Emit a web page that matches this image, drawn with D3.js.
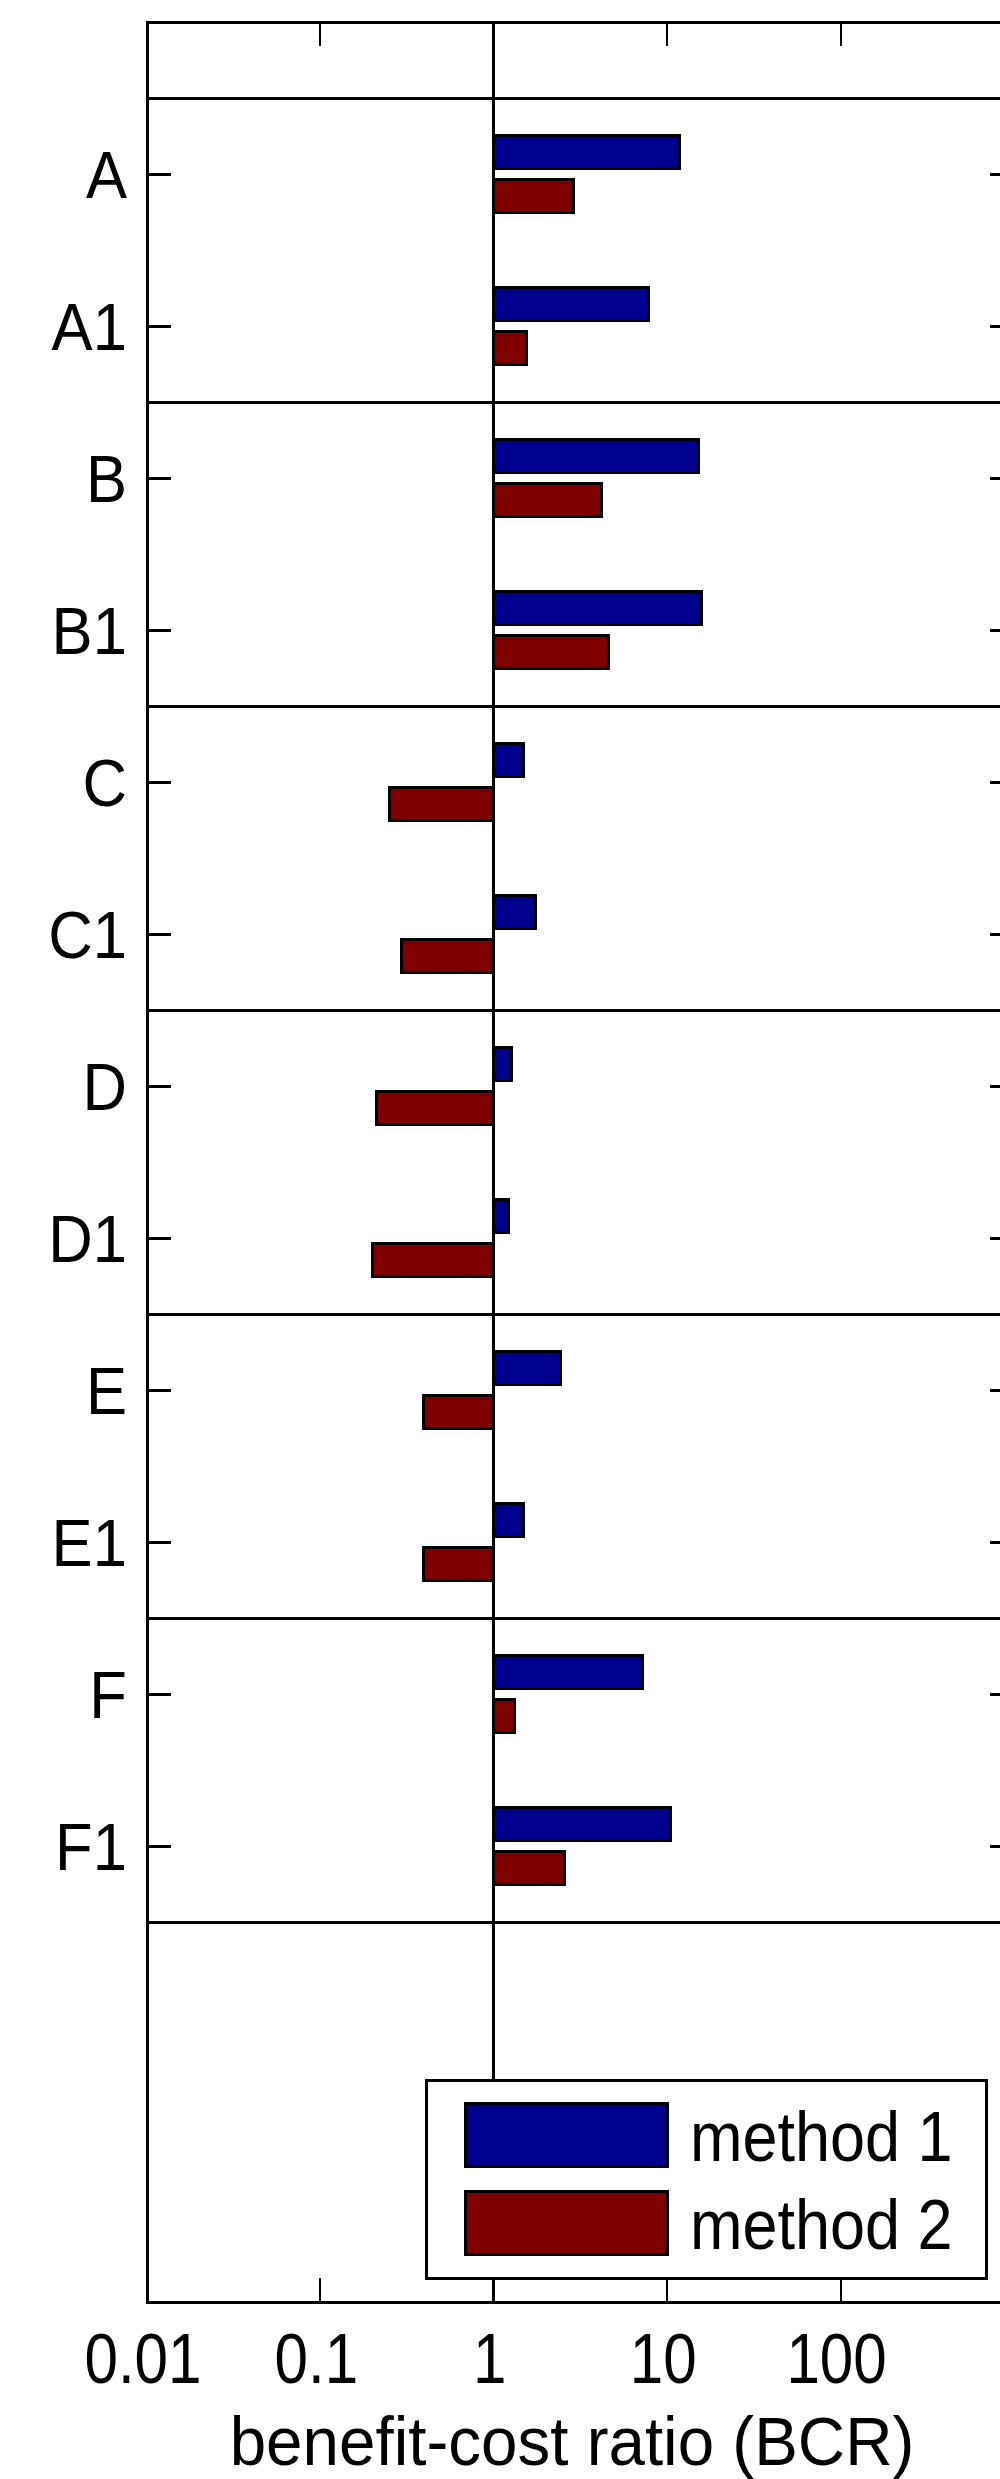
<!DOCTYPE html>
<html lang="en">
  <head>
    <meta charset="UTF-8" />
    <title>Benefit-cost ratio by method</title>
    <script src="https://d3js.org/d3.v7.min.js"></script>
    <style>
      body { margin: 0; background: #fff; }
      text { font-family: "Liberation Sans", Arial, sans-serif; fill: #000; }
      line, rect { shape-rendering: crispEdges; }
    </style>
  </head>
  <body>
    <svg id="chart" width="1000" height="2479"></svg>
    <script>
      // data (log-scaled BCR)
      const categories = ["A", "A1", "B", "B1", "C", "C1", "D", "D1", "E", "E1", "F", "F1"];
      const method1 = [11.7, 7.75, 15.2, 15.7, 1.49, 1.75, 1.26, 1.21, 2.44, 1.49, 7.18, 10.4];
      const method2 = [2.9, 1.55, 4.17, 4.58, 0.249, 0.292, 0.212, 0.201, 0.391, 0.391, 1.31, 2.55];
      const seriesNames = ["method 1", "method 2"];
      const seriesColors = ["#00008f", "#800000"];
      const xTicks = [0.01, 0.1, 1, 10, 100, 1000];
      const xTickLabels = ["0.01", "0.1", "1", "10", "100"];
      const groupSeparators = [0.5, 2.5, 4.5, 6.5, 8.5, 10.5, 12.5];

      const svg = d3.select("#chart");
      const plotL = 147, plotR = 1014, plotT = 22, plotB = 2302;

      const x = d3.scaleLog().domain([0.01, 1000]).range([plotL, plotR]);
      const y = d3.scaleLinear().domain([0, 15]).range([plotT, plotB]);
      const pos = (i) => i + 1;

      const barH = y(0.215) - y(0);
      const off = y(0.143) - y(0);

      // group separators
      svg.append("g")
        .selectAll("line")
        .data(groupSeparators)
        .enter()
        .append("line")
        .attr("x1", plotL).attr("x2", plotR)
        .attr("y1", (d) => y(d)).attr("y2", (d) => y(d))
        .attr("stroke", "#000").attr("stroke-width", 3);

      // bars, drawn from baseline 1
      const series = [method1, method2];
      series.forEach((vals, s) => {
        svg.append("g")
          .selectAll("rect")
          .data(vals)
          .enter()
          .append("rect")
          .attr("x", (d) => Math.min(x(1), x(d)))
          .attr("width", (d) => Math.abs(x(d) - x(1)))
          .attr("y", (d, i) => y(pos(i)) + (s === 0 ? -off : off) - barH / 2)
          .attr("height", barH)
          .attr("fill", seriesColors[s])
          .attr("stroke", "#000")
          .attr("stroke-width", 3);
      });

      // baseline at 1
      svg.append("line")
        .attr("x1", x(1)).attr("x2", x(1))
        .attr("y1", plotT).attr("y2", plotB)
        .attr("stroke", "#000").attr("stroke-width", 3);

      // ticks inside the frame
      const tickLen = 24;
      const tk = svg.append("g").attr("stroke", "#000").attr("stroke-width", 2);
      xTicks.forEach((t) => {
        tk.append("line").attr("x1", x(t)).attr("x2", x(t)).attr("y1", plotT).attr("y2", plotT + tickLen);
        tk.append("line").attr("x1", x(t)).attr("x2", x(t)).attr("y1", plotB).attr("y2", plotB - tickLen);
      });
      categories.forEach((c, i) => {
        tk.append("line").attr("x1", plotL).attr("x2", plotL + tickLen).attr("y1", y(pos(i))).attr("y2", y(pos(i))).attr("stroke-width", 3);
        tk.append("line").attr("x1", plotR).attr("x2", plotR - tickLen).attr("y1", y(pos(i))).attr("y2", y(pos(i))).attr("stroke-width", 3);
      });

      // frame
      svg.append("rect")
        .attr("x", plotL).attr("y", plotT)
        .attr("width", plotR - plotL).attr("height", plotB - plotT)
        .attr("fill", "none").attr("stroke", "#000").attr("stroke-width", 3);

      // y labels
      svg.append("g")
        .selectAll("text")
        .data(categories)
        .enter()
        .append("text")
        .attr("transform", (d, i) => `translate(127,${y(pos(i))}) scale(0.92,1)`)
        .attr("dy", "0.36em")
        .attr("text-anchor", "end")
        .attr("font-size", 67)
        .text((d) => d);

      // x labels
      svg.append("g")
        .selectAll("text")
        .data(xTickLabels)
        .enter()
        .append("text")
        .attr("transform", (d, i) => `translate(${x(xTicks[i]) - 4},2383) scale(0.86,1)`)
        .attr("text-anchor", "middle")
        .attr("font-size", 70)
        .text((d) => d);

      svg.append("text")
        .attr("transform", "translate(572,2465) scale(0.95,1)")
        .attr("text-anchor", "middle")
        .attr("font-size", 69)
        .text("benefit-cost ratio (BCR)");

      // legend
      const lg = svg.append("g");
      lg.append("rect")
        .attr("x", 426).attr("y", 2080).attr("width", 560).attr("height", 198)
        .attr("fill", "#fff").attr("stroke", "#000").attr("stroke-width", 3);
      seriesNames.forEach((name, s) => {
        lg.append("rect")
          .attr("x", 465).attr("y", 2103 + s * 88).attr("width", 202).attr("height", 63)
          .attr("fill", seriesColors[s]).attr("stroke", "#000").attr("stroke-width", 3);
        lg.append("text")
          .attr("transform", `translate(690,${2161 + s * 88}) scale(0.9,1)`)
          .attr("font-size", 70)
          .text(name);
      });
    </script>
  </body>
</html>
